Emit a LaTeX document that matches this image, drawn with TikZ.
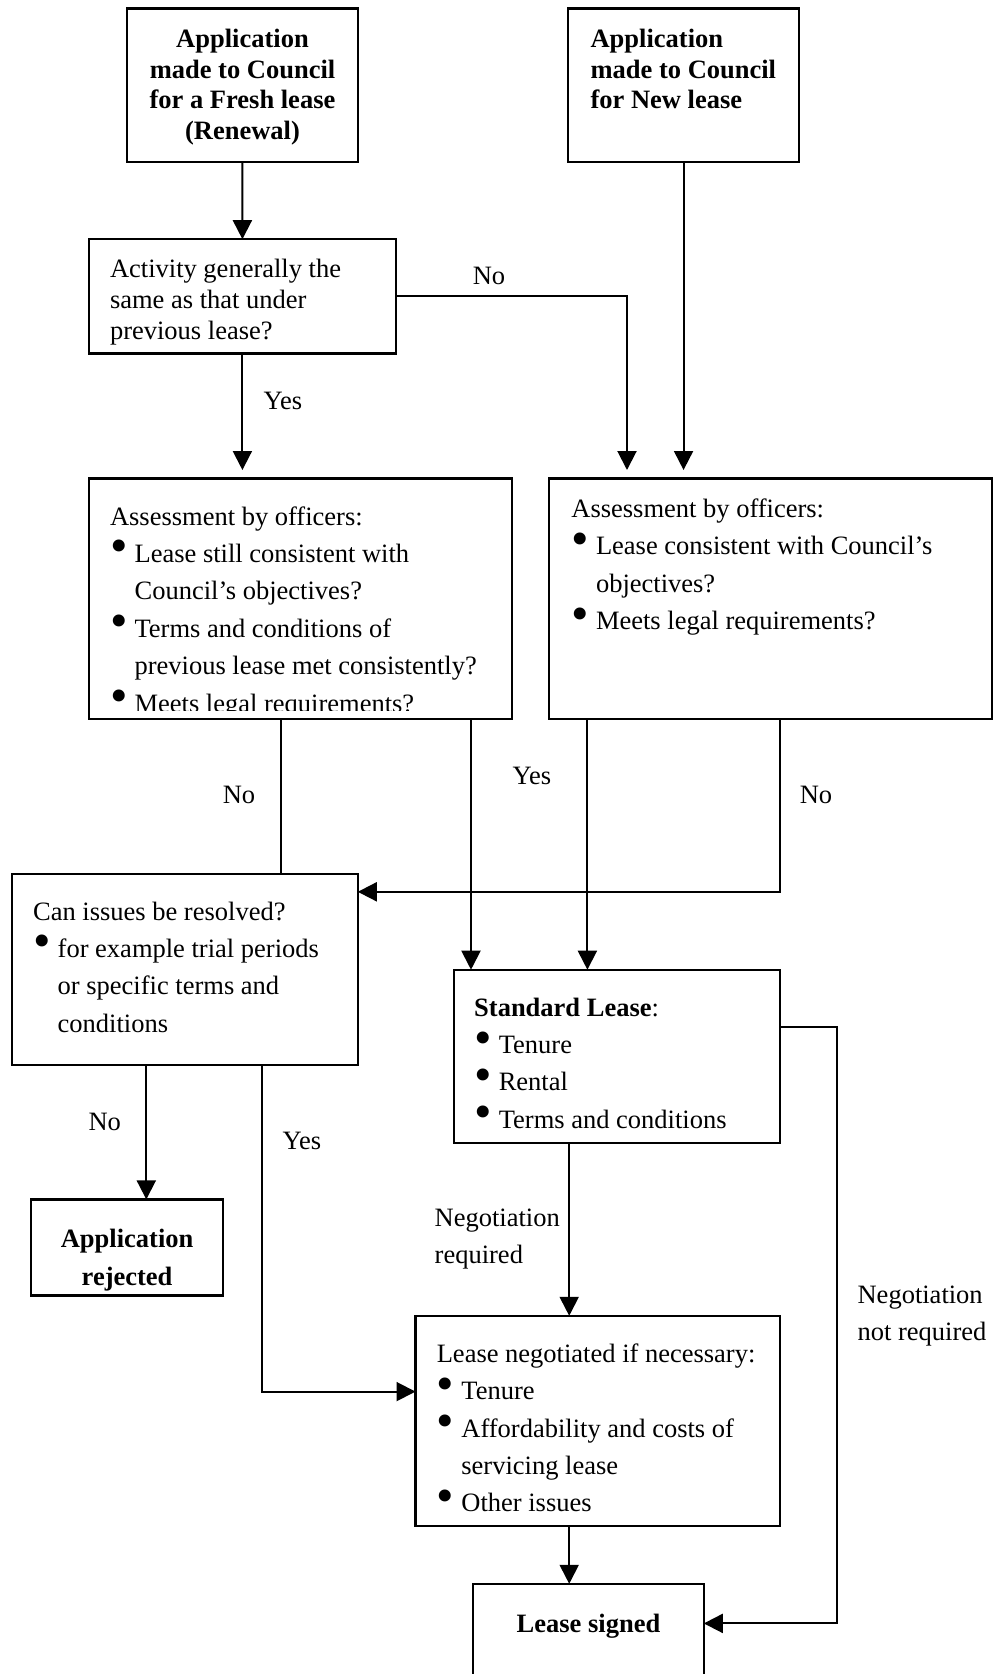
\documentclass[tikz,border=0pt]{standalone}
\usepackage{fontspec}
\setmainfont{Liberation Serif}
\usetikzlibrary{arrows.meta}
\newcommand\bul{\makebox[24.6pt][l]{\smash{\raisebox{-0.5pt}{\fontsize{50}{50}\selectfont •}}}}
\newcommand\cnt{\hspace*{24.6pt}}
\newcommand\tbox[2][37.4]{\parbox[t]{420pt}{\fontsize{26.5}{#1}\selectfont\raggedright #2}}
\newcommand\cbox[2][37.4]{\parbox[t]{300pt}{\fontsize{26.5}{#1}\selectfont\centering #2}}
\tikzset{
  box/.style={draw, line width=2.2pt, inner sep=0pt, outer sep=0pt, anchor=north west},
  txt/.style={inner sep=0pt, outer sep=0pt, anchor=base west},
  ctxt/.style={inner sep=0pt, outer sep=0pt, anchor=base},
  lbl/.style={inner sep=0pt, outer sep=0pt, anchor=base, font=\fontsize{26.5}{37.4}\selectfont},
  arr/.style={line width=2pt, -{Triangle[length=19pt,width=19pt]}},
  conn/.style={line width=2pt}
}
\begin{document}
\begin{tikzpicture}[x=1pt,y=-1pt]
\useasboundingbox (0,0) rectangle (1005,1674);
\fill[white] (0,0) rectangle (1005,1674);
\clip (0,0) rectangle (1005,1674);
% boxes
\node[box, minimum width=230.7pt, minimum height=153.8pt] (ren) at (127.1,8.5) {};
\node[box, minimum width=230.7pt, minimum height=153.8pt] (new) at (568.2,8.5) {};
\node[box, minimum width=307.6pt, minimum height=114.3pt] (act) at (88.6,239.2) {};
\node[box, minimum width=423pt, minimum height=240.3pt] (la) at (88.6,478.5) {};
\node[box, minimum width=443.2pt, minimum height=240.3pt] (ra) at (549,478.5) {};
\node[box, minimum width=346.1pt, minimum height=191.2pt] (ci) at (11.7,873.6) {};
\node[box, minimum width=325.7pt, minimum height=173.1pt] (sl) at (453.9,969.7) {};
\node[box, minimum width=192.2pt, minimum height=96.1pt] (rj) at (31,1199.4) {};
\node[box, minimum width=364.1pt, minimum height=210.4pt] (ln) at (415.5,1315.8) {};
\node[box, minimum width=230.7pt, minimum height=130pt] (sg) at (473.1,1583.8) {};
% texts
\node[ctxt] (renT) at (242.5,47.5) {\cbox[30.6]{\bfseries Application\\ made to Council\\ for a Fresh lease\\ (Renewal)}};
\node[txt] (newT) at (590.6,47.5) {\tbox[30.6]{\bfseries Application\\ made to Council\\ for New lease}};
\node[txt] (actT) at (110,277) {\tbox[31]{Activity generally the\\ same as that under\\ previous lease?}};
\begin{scope}
\clip (91,481) rectangle (509,710);
\node[txt] (laT) at (110,525) {\tbox{Assessment by officers:\\
\bul Lease still consistent with\\
\cnt Council’s objectives?\\
\bul Terms and conditions of\\
\cnt previous lease met consistently?\\
\bul Meets legal requirements?}};
\end{scope}
\node[txt] (raT) at (571.4,517.4) {\tbox{Assessment by officers:\\
\bul Lease consistent with Council’s\\
\cnt objectives?\\
\bul Meets legal requirements?}};
\node[txt] (ciT) at (33.1,920) {\tbox{Can issues be resolved?\\
\bul for example trial periods\\
\cnt or specific terms and\\
\cnt conditions}};
\node[txt] (slT) at (474.2,1016.1) {\tbox{\textbf{Standard Lease}:\\
\bul Tenure\\
\bul Rental\\
\bul Terms and conditions}};
\node[ctxt] (rjT) at (127.1,1247.9) {\cbox{\bfseries Application\\ rejected}};
\node[txt] (lnT) at (436.8,1362.2) {\tbox{Lease negotiated if necessary:\\
\bul Tenure\\
\bul Affordability and costs of\\
\cnt servicing lease\\
\bul Other issues}};
\node[ctxt] (sgT) at (588.5,1632.4) {\cbox{\bfseries Lease signed}};
% helper coordinates
\coordinate (cNo) at (627,0);
\coordinate (cA) at (281,0);
\coordinate (cB) at (471,0);
\coordinate (cC) at (587.4,0);
\coordinate (cD) at (779.6,0);
\coordinate (cE) at (0,891.8);
\coordinate (cF) at (146.3,0);
\coordinate (cG) at (261.7,0);
\coordinate (cH) at (0,1391.6);
\coordinate (cI) at (569.2,0);
\coordinate (cJ) at (0,1027.4);
\coordinate (cK) at (837.3,0);
\coordinate (cL) at (0,1623.4);
% connectors
\draw[arr] (ren.south) -- (act.north);
\draw[arr, shorten >=8.5pt] (act.south) -- (act.south |- la.north);
\draw[arr, shorten >=8.5pt] (new.south) -- (new.south |- ra.north);
\draw[arr, shorten >=8.5pt] (act.east) -| (ra.north -| cNo);
\draw[conn] (la.south -| cA) -- (ci.north -| cA);
\draw[arr] (la.south -| cB) -- (sl.north -| cB);
\draw[arr] (ra.south -| cC) -- (sl.north -| cC);
\draw[arr] (ra.south -| cD) |- (ci.east |- cE);
\draw[arr] (ci.south -| cF) -- (rj.north -| cF);
\draw[arr] (ci.south -| cG) |- (ln.west |- cH);
\draw[arr] (sl.south -| cI) -- (ln.north -| cI);
\draw[arr] (sl.east |- cJ) -| (cK |- cL) -- (sg.east |- cL);
\draw[arr] (ln.south -| cI) -- (sg.north -| cI);
% labels
\node[lbl] (l1) at (489,284.5) {No};
\node[lbl] (l2) at (283,409.5) {Yes};
\node[lbl] (l3) at (239,803.6) {No};
\node[lbl] (l4) at (532,784.4) {Yes};
\node[lbl] (l5) at (816,803.6) {No};
\node[lbl] (l6) at (104.7,1130.4) {No};
\node[lbl] (l7) at (302,1149.6) {Yes};
\node[txt] (l8) at (434.7,1226.5) {\tbox{Negotiation\\ required}};
\node[txt] (l9) at (857.6,1303.4) {\tbox{Negotiation\\ not required}};
\end{tikzpicture}
\end{document}
